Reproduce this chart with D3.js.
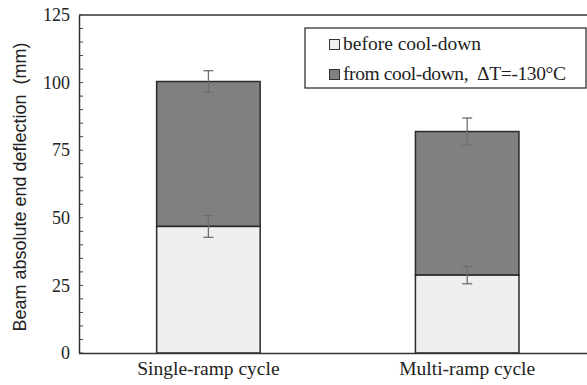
<!DOCTYPE html>
<html><head><meta charset="utf-8">
<script src="https://cdn.jsdelivr.net/npm/d3@7"></script>
<style>html,body{margin:0;padding:0;background:#fff;overflow:hidden}</style>
</head><body>
<svg id="c" width="587" height="385"></svg>
<script>
const categories = ["Single-ramp cycle", "Multi-ramp cycle"];
const seriesNames = ["before cool-down", "from cool-down,  \u0394T=-130\u00B0C"];
const beforeVals = [46.8, 28.8];
const beforeErr = [4.0, 3.2];
const totalVals = [100.4, 81.9];
const totalErr = [4.0, 5.0];
const yTicks = [0, 25, 50, 75, 100, 125];
const yLabel = "Beam absolute end deflection  (mm)";

const SERIF = "'Liberation Serif'";
const SANS = "'Liberation Sans'";

const svg = d3.select("#c");
const m = {l: 79, t: 15, b: 353, r: 596.6};
const x = d3.scaleBand().domain(categories).range([m.l, m.r]).paddingInner(0.6).paddingOuter(0.3);
const y = d3.scaleLinear().domain([0, 125]).range([m.b, m.t]);

const data = categories.map((c, i) => ({c, b: beforeVals[i], be: beforeErr[i], t: totalVals[i], te: totalErr[i]}));

svg.append("line").attr("x1", m.l).attr("x2", 587).attr("y1", y(125)).attr("y2", y(125))
  .attr("stroke", "#333").attr("stroke-width", 1.5);

const colors = ["#efefef", "#808080"];
data.forEach(d => {
  svg.append("rect").attr("x", x(d.c)).attr("width", x.bandwidth())
    .attr("y", y(d.t)).attr("height", y(d.b) - y(d.t))
    .attr("fill", colors[1]).attr("stroke", "#2a2a2a").attr("stroke-width", 1.5);
  svg.append("rect").attr("x", x(d.c)).attr("width", x.bandwidth())
    .attr("y", y(d.b)).attr("height", y(0) - y(d.b))
    .attr("fill", colors[0]).attr("stroke", "#2a2a2a").attr("stroke-width", 1.5);
});

function errBar(cx, v, e) {
  const g = svg.append("g").attr("stroke", "#6e6e6e").attr("stroke-width", 1.3);
  g.append("line").attr("x1", cx).attr("x2", cx).attr("y1", y(v + e)).attr("y2", y(v - e));
  g.append("line").attr("x1", cx - 5).attr("x2", cx + 5).attr("y1", y(v + e)).attr("y2", y(v + e));
  g.append("line").attr("x1", cx - 5).attr("x2", cx + 5).attr("y1", y(v - e)).attr("y2", y(v - e));
}
data.forEach(d => {
  const cx = x(d.c) + x.bandwidth() / 2;
  errBar(cx, d.b, d.be);
  errBar(cx, d.t, d.te);
});

const ya = svg.append("g").attr("transform", `translate(${m.l},0)`)
  .call(d3.axisLeft(y).tickValues(yTicks).tickSize(0).tickPadding(9));
ya.select(".domain").attr("stroke", "#333").attr("stroke-width", 1.5);
ya.selectAll("text").style("font-family", SERIF).style("font-size", "18px").attr("fill", "#222");
const minor = d3.range(0, 126, 5);
svg.append("g").selectAll("line").data(minor).join("line")
  .attr("x1", m.l).attr("x2", m.l + 4).attr("y1", d => y(d)).attr("y2", d => y(d))
  .attr("stroke", "#444").attr("stroke-width", 1);

const xa = svg.append("g").attr("transform", `translate(0,${m.b})`)
  .call(d3.axisBottom(x).tickSize(0).tickPadding(8));
xa.select(".domain").attr("stroke", "#333").attr("stroke-width", 1.5)
  .attr("d", `M${m.l},0.5H587`);
xa.selectAll("text").style("font-family", SERIF).style("font-size", "19.5px").attr("fill", "#222");

svg.append("text").attr("transform", `translate(26,187) rotate(-90)`)
  .attr("text-anchor", "middle").style("font-family", SANS)
  .style("font-size", "18px").attr("fill", "#222").style("white-space", "pre").text(yLabel);

const lg = svg.append("g");
lg.append("rect").attr("x", 305).attr("y", 28).attr("width", 281).attr("height", 60)
  .attr("fill", "#fff").attr("stroke", "#333").attr("stroke-width", 1.3);
seriesNames.forEach((s, i) => {
  const yy = 39 + i * 30;
  lg.append("rect").attr("x", 329.5).attr("y", yy + 0.5).attr("width", 10).attr("height", 10)
    .attr("fill", colors[i]).attr("stroke", "#333").attr("stroke-width", 1);
  const t = lg.append("text").attr("x", 343).attr("y", yy + 11).style("font-family", SERIF)
    .style("font-size", "19.5px").attr("fill", "#222").style("white-space", "pre").text(s);
  if (i === 1) t.attr("textLength", 223).attr("lengthAdjust", "spacing");
});
</script>
</body></html>
